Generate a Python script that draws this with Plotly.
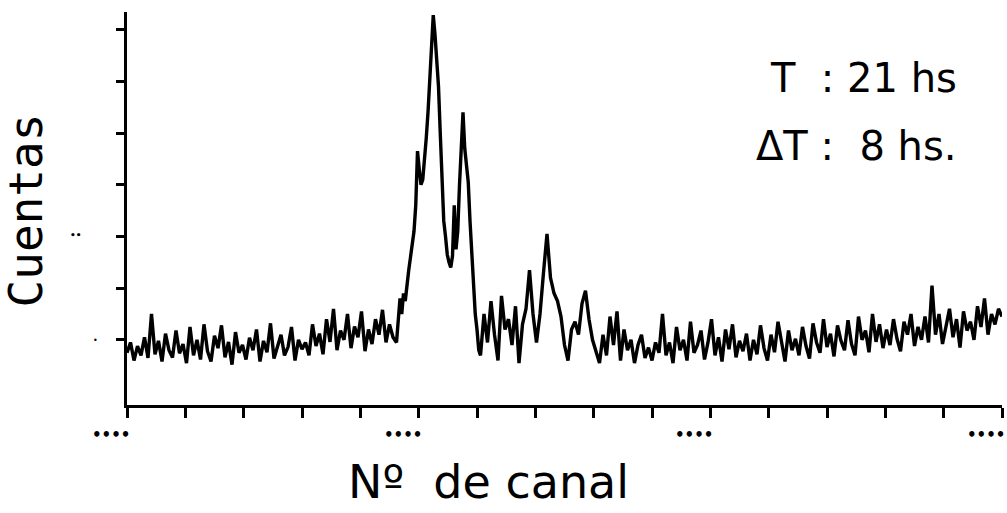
import numpy as np
import plotly.graph_objects as go

# Spectrum: counts per channel, three sampling blocks (step 6 / step 3 around the main peak / step 6)
start_a, step_a = 0, 6
counts_a = [
    75, 95, 60, 88, 70, 105, 65, 150, 72, 98, 58, 112, 80, 66, 118, 74, 92,
    55, 125, 70, 100, 62, 130, 78, 58, 108, 84, 128, 66, 96, 52, 115, 75, 90,
    62, 104, 80, 120, 58, 98, 76, 132, 64, 90, 110, 70, 86, 125, 60, 100, 82,
    95, 70, 130, 88, 112, 72, 140, 96, 160, 80, 118, 100, 150, 84, 126, 105,
    155, 78, 120, 92, 140, 110, 158, 95, 130, 105,
]

start_b, step_b = 462, 3
counts_b = [
    95, 140, 180, 150, 190, 175, 210, 235, 260, 285,
    310, 360, 465, 430, 400, 410, 445, 490, 540, 610,
    660, 728, 690, 640, 590, 500, 390, 330, 300, 265,
    250, 240, 262, 360, 275, 310, 400, 490, 540, 470,
    430, 405, 330, 260, 200, 150, 120, 80,
]

start_c, step_c = 606, 6
counts_c = [
    70, 150, 95, 175, 110, 60, 185, 120, 140, 90, 165, 55, 130, 160, 235, 150, 95,
    150, 230, 305, 220, 190, 175, 145, 90, 60, 120, 135, 110, 170, 195, 140, 100, 80,
    55, 110, 70, 145, 90, 155, 60, 120, 80, 100, 55, 90, 110, 65, 85, 60, 95, 75,
    150, 70, 95, 55, 125, 80, 100, 60, 135, 75, 90, 118, 62,
    95, 140, 70, 105, 58, 120, 82, 130, 66, 98, 78, 112, 60,
    100, 72, 128, 84, 60, 110, 76, 135, 92, 58, 118, 80, 102,
    70, 125, 88, 64, 132, 95, 75, 140, 86, 112, 68, 128, 98,
    80, 138, 92, 70, 145, 100, 118, 76, 150, 96, 130, 84, 120,
    90, 140, 102, 78, 135, 110, 150, 88, 125, 100, 145, 95, 205,
    110, 150, 92, 128, 160, 105, 140, 85, 155, 118, 135, 100, 165, 125, 180, 110, 150, 130, 160, 145,
]

x_ticks = list(range(0, 1501, 100))
x_labelled = [0, 500, 1000, 1500]
y_ticks = [100, 200, 300, 400, 500, 600, 700]

channels = np.concatenate([
    start_a + step_a * np.arange(len(counts_a)),
    start_b + step_b * np.arange(len(counts_b)),
    start_c + step_c * np.arange(len(counts_c)),
])
counts = np.array(counts_a + counts_b + counts_c)

fig = go.Figure()
fig.add_trace(go.Scatter(
    x=channels, y=counts, mode="lines",
    line=dict(color="black", width=3.4),
    hoverinfo="skip", showlegend=False,
))

hand = "DejaVu Sans"
annotations = []
for v in x_labelled:
    annotations.append(dict(
        x=v, y=0, xref="x", yref="paper", text="<b>••••</b>", showarrow=False,
        xanchor="right", yanchor="top", xshift=5, yshift=-19,
        font=dict(size=15, color="black", family=hand),
    ))

annotations += [
    dict(x=-0.115, y=0.496, xref="paper", yref="paper", text="Cuentas",
         textangle=-90, showarrow=False, xanchor="center", yanchor="middle",
         font=dict(family="DejaVu Sans Mono", size=46, color="black")),
    dict(x=-0.058, y=0.432, xref="paper", yref="paper", text="<b>••</b>",
         showarrow=False, xanchor="center", yanchor="middle",
         font=dict(family=hand, size=9, color="black")),
    dict(x=-0.036, y=0.165, xref="paper", yref="paper", text="•",
         showarrow=False, xanchor="center", yanchor="middle",
         font=dict(family=hand, size=8, color="black")),
    dict(x=0.413, y=-0.196, xref="paper", yref="paper", text="Nº  de canal",
         showarrow=False, xanchor="center", yanchor="middle",
         font=dict(family=hand, size=46, color="black")),
    dict(x=0.733, y=0.832, xref="paper", yref="paper", text="T  : 21 hs",
         showarrow=False, xanchor="left", yanchor="middle",
         font=dict(family=hand, size=40, color="black")),
    dict(x=0.716, y=0.659, xref="paper", yref="paper", text="ΔT :  8 hs.",
         showarrow=False, xanchor="left", yanchor="middle",
         font=dict(family=hand, size=40, color="black")),
]

fig.update_layout(
    width=1007, height=513,
    margin=dict(l=127, r=5, t=12, b=108),
    paper_bgcolor="white", plot_bgcolor="white",
    annotations=annotations,
    xaxis=dict(
        range=[0, 1500], tickvals=x_ticks, showticklabels=False,
        ticks="outside", ticklen=10, tickwidth=3, tickcolor="black",
        showline=True, linecolor="black", linewidth=3,
        showgrid=False, zeroline=False,
    ),
    yaxis=dict(
        range=[-26, 734], tickvals=y_ticks, showticklabels=False,
        ticks="outside", ticklen=8, tickwidth=3, tickcolor="black",
        showline=True, linecolor="black", linewidth=3,
        showgrid=False, zeroline=False,
    ),
)

fig.write_html("out.html")
